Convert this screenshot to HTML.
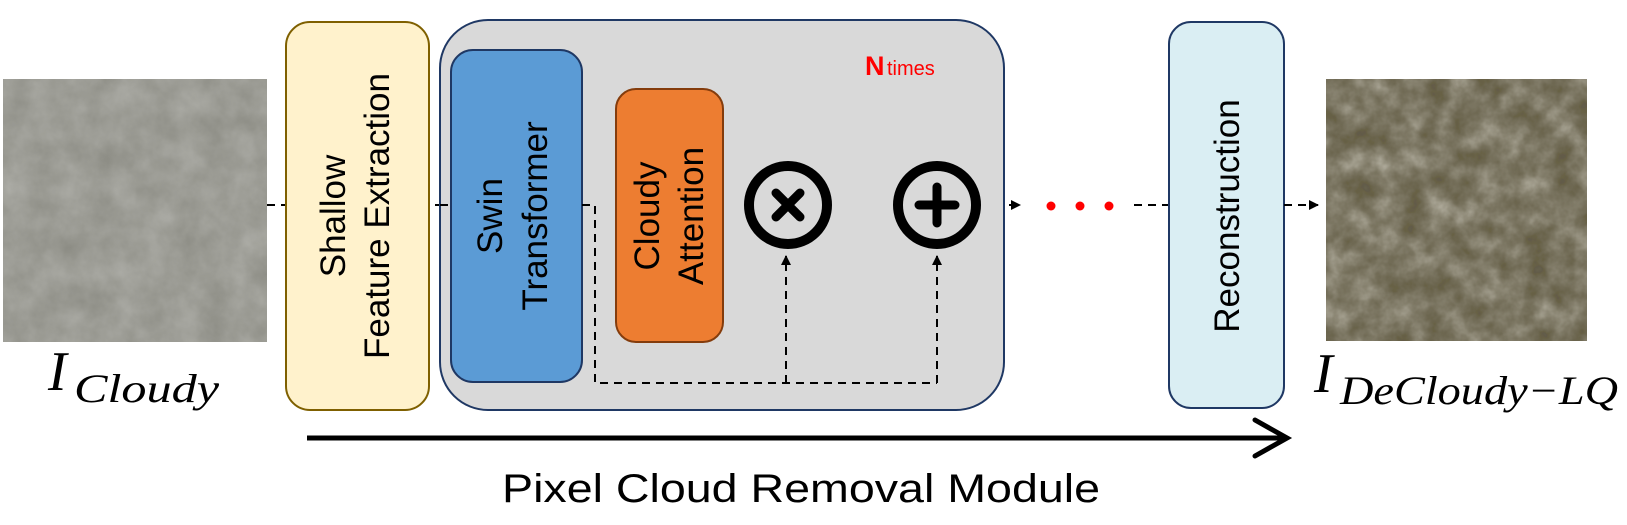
<!DOCTYPE html>
<html><head><meta charset="utf-8"><style>
html,body{margin:0;padding:0;background:#fff;}
svg{display:block;}
.s{font-family:"Liberation Sans",sans-serif;}
.m{font-family:"Liberation Serif",serif;font-style:italic;}
</style></head><body>
<svg width="1627" height="525" viewBox="0 0 1627 525" xmlns="http://www.w3.org/2000/svg">
<defs>
<filter id="t1" x="0" y="0" width="1" height="1">
<feTurbulence type="fractalNoise" baseFrequency="0.035" numOctaves="4" seed="3"/>
<feColorMatrix type="matrix" values="0 0 0 0 0.55  0 0 0 0 0.55  0 0 0 0 0.52  0.9 0 0 0 0"/>
</filter>
<filter id="t2" x="0" y="0" width="1" height="1">
<feTurbulence type="fractalNoise" baseFrequency="0.04" numOctaves="4" seed="5"/>
<feColorMatrix type="matrix" values="1.2 0 0 0 -0.2  1.2 0 0 0 -0.22  1.2 0 0 0 -0.3  0.9 0 0 0 0"/>
</filter>
<marker id="ah" markerWidth="10" markerHeight="10" refX="9" refY="5" orient="auto" markerUnits="userSpaceOnUse">
<path d="M0,0 L10,5 L0,10 z" fill="#000"/>
</marker>
</defs>

<rect x="3" y="79" width="264" height="263" fill="#8a8a82"/>
<rect x="3" y="79" width="264" height="263" filter="url(#t1)" opacity="0.7"/>
<rect x="1326" y="79" width="261" height="262" fill="#6b6550"/>
<rect x="1326" y="79" width="261" height="262" filter="url(#t2)" opacity="0.6"/>

<line x1="267" y1="205" x2="1020" y2="205" stroke="#000" stroke-width="2" stroke-dasharray="8,6" marker-end="url(#ah)"/>

<rect x="286" y="22" width="143" height="388" rx="24" fill="#fff2cc" stroke="#7f6000" stroke-width="2"/>
<g class="s">
<text transform="translate(345,216) rotate(-90)" font-size="35" text-anchor="middle">Shallow</text>
<text transform="translate(389,216) rotate(-90)" font-size="35" text-anchor="middle">Feature Extraction</text>
</g>

<rect x="440" y="20" width="564" height="390" rx="48" fill="#d9d9d9" stroke="#1f3864" stroke-width="2"/>
<line x1="440" y1="205" x2="451" y2="205" stroke="#000" stroke-width="2" stroke-dasharray="8,6"/>
<text class="s" x="865" y="75" font-size="27" font-weight="bold" fill="#ff0000">N</text>
<text class="s" x="887" y="75" font-size="20" fill="#ff0000">times</text>

<rect x="451" y="50" width="131" height="332" rx="22" fill="#5b9bd5" stroke="#1f3864" stroke-width="2"/>
<g class="s">
<text transform="translate(502,216) rotate(-90)" font-size="35" text-anchor="middle">Swin</text>
<text transform="translate(547,216) rotate(-90)" font-size="35" text-anchor="middle">Transformer</text>
</g>

<rect x="616" y="89" width="107" height="253" rx="20" fill="#ed7d31" stroke="#843c0c" stroke-width="2"/>
<g class="s">
<text transform="translate(659,216) rotate(-90)" font-size="35" text-anchor="middle">Cloudy</text>
<text transform="translate(703,216) rotate(-90)" font-size="35" text-anchor="middle">Attention</text>
</g>

<path d="M582,205 L595,205 L595,383 L937,383" fill="none" stroke="#000" stroke-width="2" stroke-dasharray="8,6"/>
<line x1="786" y1="383" x2="786" y2="256" stroke="#000" stroke-width="2" stroke-dasharray="8,6" marker-end="url(#ah)"/>
<line x1="937" y1="383" x2="937" y2="256" stroke="#000" stroke-width="2" stroke-dasharray="8,6" marker-end="url(#ah)"/>

<circle cx="788" cy="205" r="39" fill="#d9d9d9" stroke="#000" stroke-width="10"/>
<path d="M776,193 L800,217 M800,193 L776,217" stroke="#000" stroke-width="9" stroke-linecap="round"/>
<circle cx="937" cy="205" r="39" fill="#d9d9d9" stroke="#000" stroke-width="10"/>
<path d="M937,187 L937,223 M919,205 L955,205" stroke="#000" stroke-width="9" stroke-linecap="round"/>

<circle cx="1051" cy="206" r="4.5" fill="#ff0000"/>
<circle cx="1080" cy="206" r="4.5" fill="#ff0000"/>
<circle cx="1109" cy="206" r="4.5" fill="#ff0000"/>
<line x1="1134" y1="205" x2="1169" y2="205" stroke="#000" stroke-width="2" stroke-dasharray="8,6"/>

<rect x="1169" y="22" width="115" height="386" rx="22" fill="#daeef3" stroke="#1f3864" stroke-width="2"/>
<text class="s" transform="translate(1239,216) rotate(-90)" font-size="35" text-anchor="middle">Reconstruction</text>
<line x1="1284" y1="205" x2="1318" y2="205" stroke="#000" stroke-width="2" stroke-dasharray="8,6" marker-end="url(#ah)"/>

<line x1="307" y1="438" x2="1284" y2="438" stroke="#000" stroke-width="5"/>
<path d="M1255,420 L1287,438 L1255,456" fill="none" stroke="#000" stroke-width="5" stroke-linecap="round"/>
<text class="s" x="502" y="502" font-size="40" textLength="598" lengthAdjust="spacingAndGlyphs">Pixel Cloud Removal Module</text>

<text class="m" x="48" y="390" font-size="56">I</text>
<text class="m" x="74" y="402" font-size="40" textLength="145" lengthAdjust="spacingAndGlyphs">Cloudy</text>
<text class="m" x="1314" y="392" font-size="56">I</text>
<text class="m" x="1340" y="404" font-size="40" textLength="278" lengthAdjust="spacingAndGlyphs">DeCloudy−LQ</text>
</svg>
</body></html>
